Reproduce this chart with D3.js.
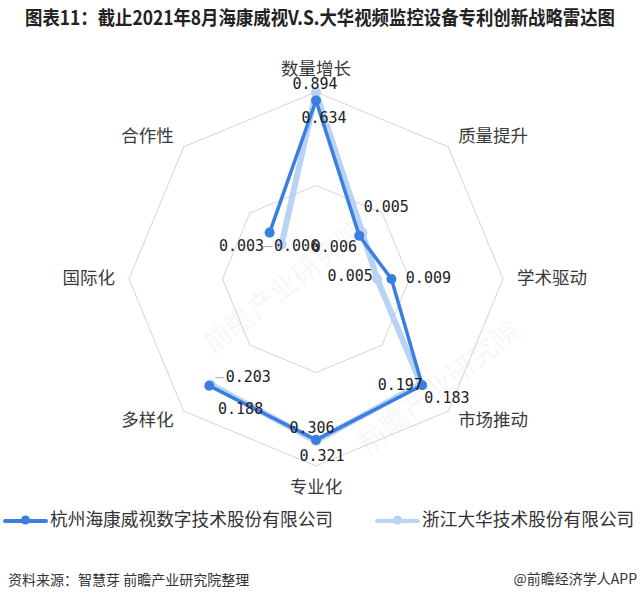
<!DOCTYPE html>
<html>
<head>
<meta charset="utf-8">
<script src="https://cdn.jsdelivr.net/npm/d3@7"></script>
<style>
  body { margin: 0; background: #fff; }
  svg { display: block; }
</style>
</head>
<body>
<svg width="640" height="604"></svg>
<script>
// radar: patents strategy, Hikvision vs Dahua
var axes = ["数量增长", "质量提升", "学术驱动", "市场推动", "专业化", "多样化", "国际化", "合作性"];
var seriesNames = ["杭州海康威视数字技术股份有限公司", "浙江大华技术股份有限公司"];
var hikValues = [0.634, 0.005, 0.009, 0.197, 0.306, 0.203, null, 0.006];
var dahuaValues = [0.894, 0.006, 0.005, 0.183, 0.321, 0.188, null, 0.003];
var valueDomain = [0.0004, 0.9];

// label nudges (dx, dy) so the numbers sit where the original puts them
var hikLabelShift = [[8, 18], [27, -28], [37, -1], [-22, 0], [-4, -11], [39, -8], null, [27, 14]];
var dahuaLabelShift = [[-1, -8], [-28, 15], [-27, -3], [26, 15], [6, 15], [30, 25], null, [-40, 2]];

var width = 640, height = 604;
var cx = 316, cy = 279, R = 187;
var colors = ["#3a7ee0", "#b9d3f4"];

var svg = d3.select("svg");

svg.append("rect").attr("width", width).attr("height", height).attr("fill", "#fff");

// title
svg.append("text")
  .attr("x", 25).attr("y", 20)
  .attr("dominant-baseline", "middle")
  .attr("font-family", "'Noto Sans CJK SC', sans-serif")
  .attr("font-weight", "bold")
  .attr("font-size", 19.5)
  .attr("fill", "#222")
  .attr("textLength", 590)
  .attr("lengthAdjust", "spacingAndGlyphs")
  .text("图表11：截止2021年8月海康威视V.S.大华视频监控设备专利创新战略雷达图");

var rscale = d3.scaleLog().domain(valueDomain).range([0, R]);
var angle = d3.scaleLinear().domain([0, axes.length]).range([-Math.PI / 2, Math.PI * 1.5]);

function px(i, r) { return cx + r * Math.cos(angle(i)); }
function py(i, r) { return cy + r * Math.sin(angle(i)); }

// faint watermarks
var marks = [[290, 295], [445, 395]];
svg.selectAll(".wm")
  .data(marks)
  .enter()
  .append("text")
  .attr("class", "wm")
  .attr("transform", function(d) { return "translate(" + d + ") rotate(-38)"; })
  .attr("text-anchor", "middle")
  .attr("font-family", "'Noto Sans CJK SC', sans-serif")
  .attr("font-weight", "bold")
  .attr("font-size", 28)
  .attr("fill", "#000")
  .attr("fill-opacity", 0.03)
  .text("前瞻产业研究院");

// grid rings
var levels = [0.5, 1];
svg.selectAll(".ring")
  .data(levels)
  .enter()
  .append("polygon")
  .attr("class", "ring")
  .attr("points", function(l) {
    return axes.map(function(a, i) { return [px(i, R * l), py(i, R * l)]; }).join(" ");
  })
  .attr("fill", "none")
  .attr("stroke", "#d4d4d4")
  .attr("stroke-width", 1)
  .attr("stroke-linejoin", "round");

// axis names
svg.selectAll(".axname")
  .data(axes)
  .enter()
  .append("text")
  .attr("class", "axname")
  .attr("x", function(d, i) { return px(i, R + 14); })
  .attr("y", function(d, i) {
    var s = Math.sin(angle(i));
    return py(i, R + 14) + (Math.abs(s) > 0.99 ? s * 8 : 0);
  })
  .attr("text-anchor", function(d, i) {
    var c = Math.cos(angle(i));
    return c > 0.01 ? "start" : (c < -0.01 ? "end" : "middle");
  })
  .attr("dominant-baseline", "middle")
  .attr("font-family", "'Noto Sans CJK SC', sans-serif")
  .attr("font-size", 17.5)
  .attr("fill", "#3a3a3a")
  .text(function(d) { return d; });

// series
var series = [
  { name: seriesNames[0], values: hikValues, shift: hikLabelShift, color: colors[0], w: 3.5 },
  { name: seriesNames[1], values: dahuaValues, shift: dahuaLabelShift, color: colors[1], w: 6 }
];

function pts(s) {
  return s.values.map(function(v, i) { return { i: i, v: v }; });
}

var line = d3.line()
  .defined(function(d) { return d.v != null; })
  .x(function(d) { return px(d.i, rscale(d.v)); })
  .y(function(d) { return py(d.i, rscale(d.v)); });

// draw light series first so the dark one sits on top
[series[1], series[0]].forEach(function(s) {
  var p = pts(s);
  var closed = p.concat([p[0]]);
  svg.append("path")
    .datum(closed)
    .attr("d", line)
    .attr("fill", "none")
    .attr("stroke", s.color)
    .attr("stroke-width", s.w)
    .attr("stroke-linejoin", "round")
    .attr("stroke-linecap", "round");

  svg.selectAll(null)
    .data(p.filter(function(d) { return d.v != null; }))
    .enter()
    .append("circle")
    .attr("cx", function(d) { return px(d.i, rscale(d.v)); })
    .attr("cy", function(d) { return py(d.i, rscale(d.v)); })
    .attr("r", 5)
    .attr("fill", s.color);
});

// value labels
series.forEach(function(s) {
  var p = pts(s).filter(function(d) { return d.v != null; });
  svg.selectAll(null)
    .data(p)
    .enter()
    .append("text")
    .attr("x", function(d) { return px(d.i, rscale(d.v)) + s.shift[d.i][0]; })
    .attr("y", function(d) { return py(d.i, rscale(d.v)) + s.shift[d.i][1]; })
    .attr("text-anchor", "middle")
    .attr("dominant-baseline", "middle")
    .attr("font-family", "'DejaVu Sans Mono', monospace")
    .attr("font-size", 15)
    .attr("fill", "#222")
    .text(function(d) { return d3.format(".3f")(d.v); });
});

// small leader ticks in front of two labels
var leaders = [[0, 5], [0, 7]];
leaders.forEach(function(l) {
  var s = series[l[0]], i = l[1], v = s.values[i];
  var x0 = px(i, rscale(v)) + s.shift[i][0] - 24;
  var y0 = py(i, rscale(v)) + s.shift[i][1];
  svg.append("line")
    .attr("x1", x0 - 9).attr("x2", x0)
    .attr("y1", y0).attr("y2", y0)
    .attr("stroke", "#aaa").attr("stroke-width", 1);
});

// legend
var legendX = [5, 377];
var lg = svg.selectAll(".lg")
  .data(series)
  .enter()
  .append("g")
  .attr("class", "lg")
  .attr("transform", function(d, i) { return "translate(" + legendX[i] + ",521)"; });

lg.append("line")
  .attr("x1", 0).attr("x2", 41)
  .attr("stroke", function(d) { return d.color; })
  .attr("stroke-width", 4)
  .attr("stroke-linecap", "round");
lg.append("circle")
  .attr("cx", 20.5).attr("cy", -1).attr("r", 4.5)
  .attr("fill", function(d) { return d.color; });
lg.append("text")
  .attr("x", 45)
  .attr("dominant-baseline", "middle")
  .attr("font-family", "'Noto Sans CJK SC', sans-serif")
  .attr("font-size", 17.7)
  .attr("fill", "#333")
  .text(function(d) { return d.name; });

// footer
svg.append("text")
  .attr("x", 8).attr("y", 581)
  .attr("dominant-baseline", "middle")
  .attr("font-family", "'Noto Sans CJK SC', sans-serif")
  .attr("font-size", 14)
  .attr("fill", "#333")
  .text("资料来源：智慧芽 前瞻产业研究院整理");

svg.append("text")
  .attr("x", 637).attr("y", 580)
  .attr("text-anchor", "end")
  .attr("dominant-baseline", "middle")
  .attr("font-family", "'Noto Sans CJK SC', sans-serif")
  .attr("font-size", 14)
  .attr("fill", "#333")
  .text("@前瞻经济学人APP");
</script>
</body>
</html>
